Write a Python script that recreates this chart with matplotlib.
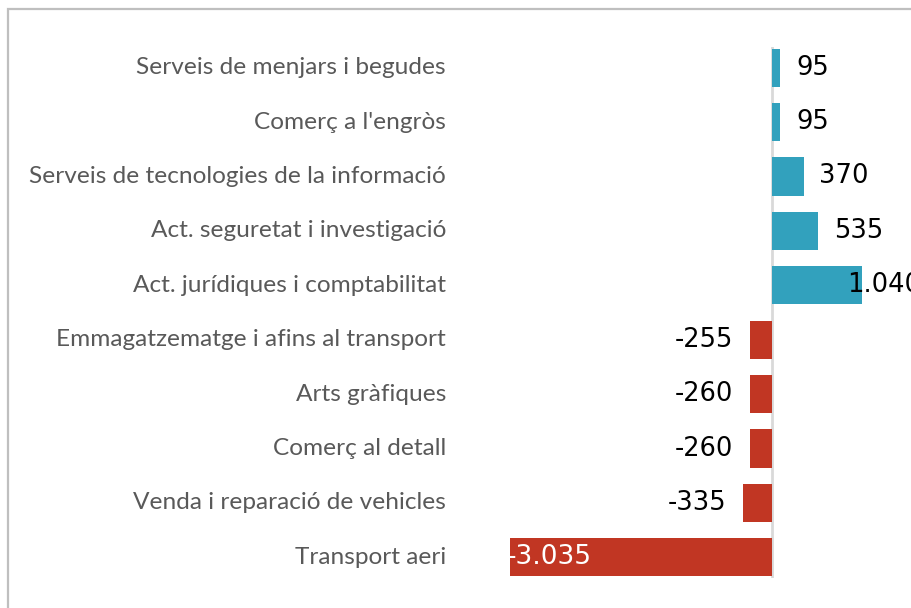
import matplotlib.pyplot as plt
from matplotlib.patches import Rectangle
import matplotlib.transforms as mtransforms

# dades
categories = [
    "Serveis de menjars i begudes",
    "Comerç a l'engròs",
    "Serveis de tecnologies de la informació",
    "Act. seguretat i investigació",
    "Act. jurídiques i comptabilitat",
    "Emmagatzematge i afins al transport",
    "Arts gràfiques",
    "Comerç al detall",
    "Venda i reparació de vehicles",
    "Transport aeri",
]
values = [95, 95, 370, 535, 1040, -255, -260, -260, -335, -3035]
labels = ["95", "95", "370", "535", "1.040", "-255", "-260", "-260", "-335", "-3.035"]

BLUE = "#32A1BD"
RED = "#C13623"

W, H = 912, 608
fig = plt.figure(figsize=(W / 100, H / 100), dpi=100)

# marc gris (surt per la dreta i per baix)
fig.patches.append(Rectangle((8 / W, -0.1), 1.2, 1.1 - 9 / H, transform=fig.transFigure,
                             fill=False, edgecolor="#BFBFBF", linewidth=1.6))

ax = fig.add_axes([510 / W, 1 - 578 / H, (W - 510) / W, 531 / H])
ypos = list(range(len(categories)))
colors = [BLUE if v > 0 else RED for v in values]
ax.barh(ypos, values, height=0.7, color=colors, zorder=2)
ax.set_xlim(-3035, (W - 772) / 0.0865)
ax.set_ylim(9.38, -0.38)
ax.axvline(0, color="#D9D9D9", linewidth=2, zorder=1)
for s in ax.spines.values():
    s.set_visible(False)
ax.set_xticks([])
ax.set_yticks([])
ax.patch.set_alpha(0)

# etiquetes de categoria
trans = mtransforms.blended_transform_factory(fig.transFigure, ax.transData)
for y, c in zip(ypos, categories):
    ax.text(446 / W, y, c, transform=trans, ha="right", va="center",
            fontsize=17.6, color="#595959", family="Lato")

# etiquetes de valor (desplaçament en píxels)
offsets = [16, 16, 15, 16, -15, -17, -17, -17, -17, 0]
for y, v, lab, off in zip(ypos, values, labels, offsets):
    if lab == "-3.035":
        t = mtransforms.offset_copy(ax.transData, fig=fig, x=-3, y=0, units="dots")
        ax.text(v, y, lab, transform=t, ha="left", va="center",
                fontsize=19, color="white", zorder=3)
    else:
        t = mtransforms.offset_copy(ax.transData, fig=fig, x=off, y=0, units="dots")
        ax.text(v, y, lab, transform=t, ha="left" if v > 0 else "right",
                va="center", fontsize=18.5, color="black", zorder=3, clip_on=False)

fig.savefig("out.png", dpi=100)
